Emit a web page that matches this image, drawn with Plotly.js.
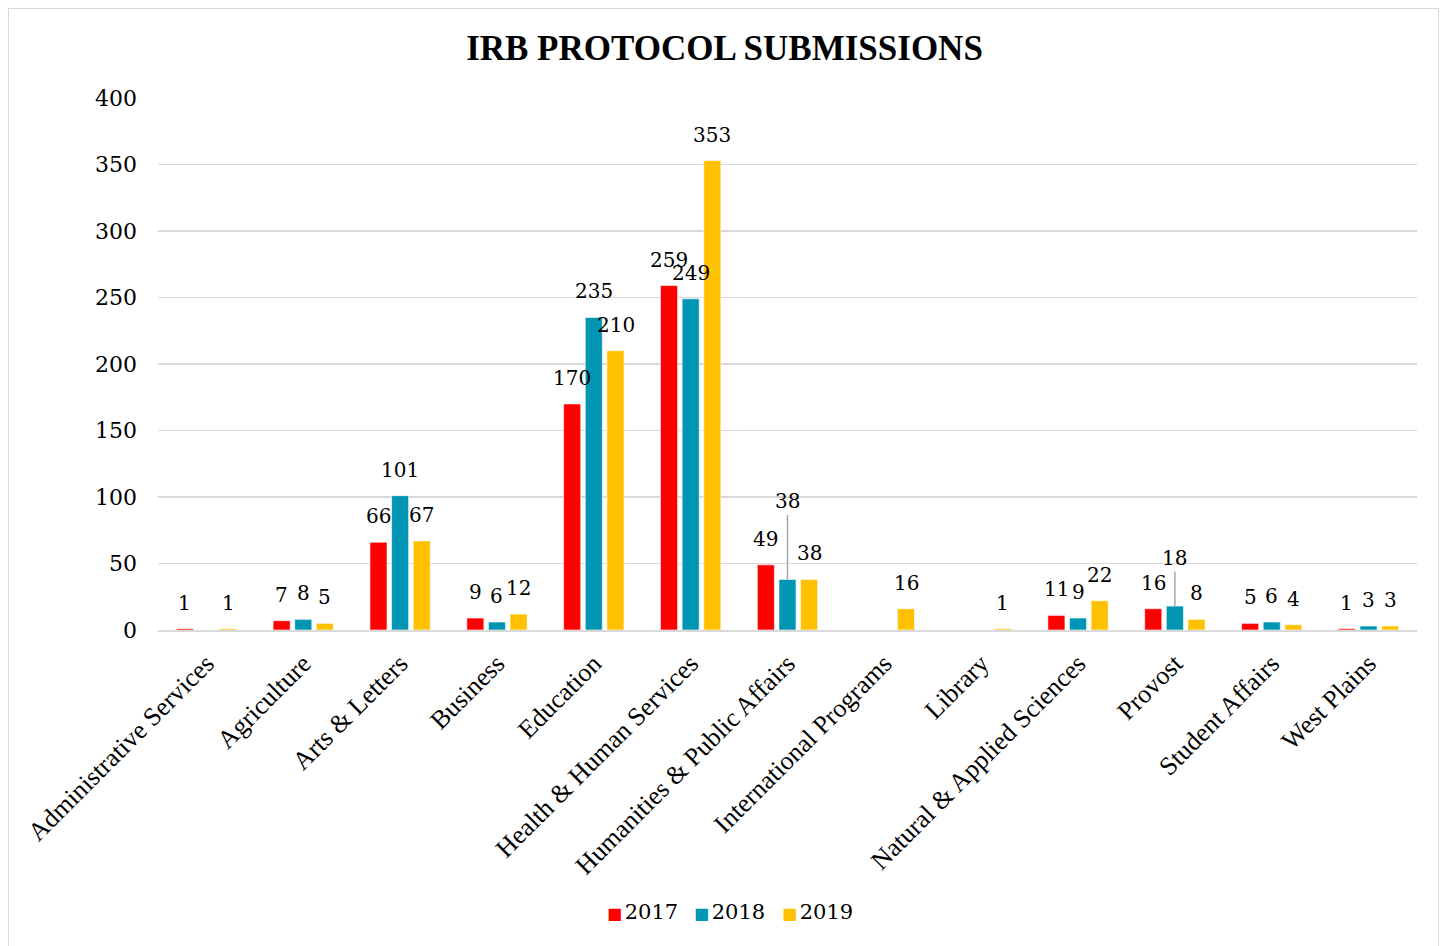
<!DOCTYPE html>
<html>
<head>
<meta charset="utf-8">
<script src="https://cdn.plot.ly/plotly-3.0.1.min.js"></script>
<style>
  html, body { margin: 0; padding: 0; background: #ffffff; }
  #frame { position: absolute; left: 8px; top: 8px; width: 1431px; height: 950px; border: 1px solid #d9d9d9; box-sizing: border-box; }
  #chart { position: absolute; left: 0; top: 0; width: 1449px; height: 946px; }
</style>
</head>
<body>
<div id="frame"></div>
<div id="chart"></div>
<script>
const categories = [
  'Administrative Services', 'Agriculture', 'Arts & Letters', 'Business', 'Education',
  'Health & Human Services', 'Humanities & Public Affairs', 'International Programs',
  'Library', 'Natural & Applied Sciences', 'Provost', 'Student Affairs', 'West Plains'
];
const years = ['2017', '2018', '2019'];
const values2017 = [1, 7, 66, 9, 170, 259, 49, null, null, 11, 16, 5, 1];
const values2018 = [null, 8, 101, 6, 235, 249, 38, null, null, 9, 18, 6, 3];
const values2019 = [1, 5, 67, 12, 210, 353, 38, 16, 1, 22, 8, 4, 3];
const yTicks = [0, 50, 100, 150, 200, 250, 300, 350, 400];

const seriesValues = [values2017, values2018, values2019];
const colors = ['#ff0000', '#0095b3', '#ffc000'];
const numFont = 'DejaVu Serif';
const catFont = 'Liberation Serif';

// labels that were lifted with a leader line (pixel lift of label centre above the bar top)
const leaderLift = { '1|Humanities & Public Affairs': 78, '1|Provost': 48 };
// legend entry pixel offsets from the plot centre
const legendShift = [-145, -58, 30];

const traces = years.map((yr, i) => ({
  type: 'bar',
  name: yr,
  x: categories,
  y: seriesValues[i],
  marker: { color: colors[i], line: { color: 'rgba(255,255,255,0.6)', width: 1 } },
  showlegend: false,
  hoverinfo: 'x+y+name'
}));

const slot = 21.7;
const annotations = [];
seriesValues.forEach((vals, i) => {
  vals.forEach((v, j) => {
    if (v === null || v === undefined) return;
    const key = i + '|' + categories[j];
    const base = {
      x: categories[j], y: v, xref: 'x', yref: 'y',
      text: String(v),
      font: { family: numFont, size: 20, color: '#000000' },
      xshift: (i - 1) * slot
    };
    if (leaderLift[key]) {
      annotations.push(Object.assign(base, {
        showarrow: true, arrowhead: 0, arrowwidth: 1.5, arrowcolor: '#a6a6a6',
        ax: 0, ay: -leaderLift[key], standoff: 0
      }));
    } else {
      annotations.push(Object.assign(base, {
        showarrow: false, yanchor: 'bottom', yshift: 12
      }));
    }
  });
});

// legend drawn as text: coloured square + year
years.forEach((yr, i) => {
  annotations.push({
    xref: 'paper', yref: 'paper', x: 0.5, y: -0.53, xanchor: 'center', yanchor: 'middle',
    xshift: legendShift[i],
    showarrow: false,
    text: '<span style="color:' + colors[i] + ';font-size:16px">■</span><span style="font-size:8px"> </span>' + yr,
    font: { family: numFont, size: 21, color: '#000000' }
  });
});

const layout = {
  width: 1449, height: 946,
  margin: { l: 158, r: 32, t: 98, b: 316 },
  paper_bgcolor: 'rgba(0,0,0,0)',
  plot_bgcolor: 'rgba(0,0,0,0)',
  title: {
    text: '<b>IRB PROTOCOL SUBMISSIONS</b>',
    font: { family: catFont, size: 35, color: '#000000' },
    x: 0.5, xanchor: 'center', y: 0.95, yanchor: 'middle', yref: 'container'
  },
  barmode: 'group',
  bargap: 0.33,
  bargroupgap: 0.21,
  showlegend: false,
  xaxis: {
    type: 'category',
    tickangle: -45,
    tickfont: { family: catFont, size: 26, color: '#000000' },
    showline: true, linecolor: '#d9d9d9', linewidth: 2,
    ticks: '', showgrid: false,
    ticklabelstandoff: 6
  },
  yaxis: {
    range: [0, 400],
    tickvals: yTicks,
    tickfont: { family: numFont, size: 22, color: '#000000' },
    showgrid: true, gridcolor: '#d9d9d9', gridwidth: 1.5,
    zeroline: false, showline: false, ticks: '',
    ticklabelstandoff: 20
  },
  annotations: annotations
};

Plotly.newPlot('chart', traces, layout, { displayModeBar: false, staticPlot: true });
</script>
</body>
</html>
